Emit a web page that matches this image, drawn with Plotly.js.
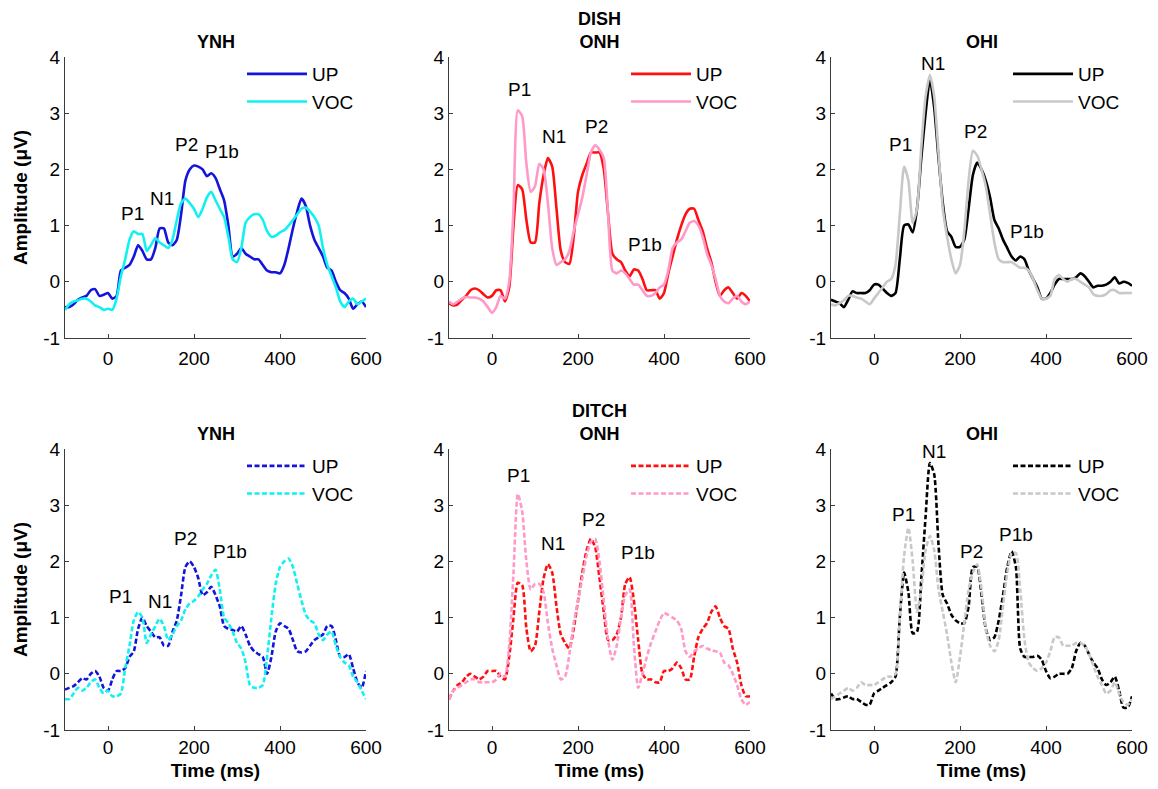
<!DOCTYPE html>
<html>
<head>
<meta charset="utf-8">
<script src="https://cdn.plot.ly/plotly-3.0.1.min.js"></script>
<style>html,body{margin:0;padding:0;background:#fff}#chart{width:1158px;height:789px}</style>
</head>
<body>
<div id="chart"></div>
<script>
// ---- time axis (ms) ----
var time = [];
for (var k = -100; k <= 600; k += 10) time.push(k);

// ---- DISH (top row, solid) ----
var dishYnhUp = [-0.45,-0.45,-0.4,-0.32,-0.28,-0.25,-0.15,-0.13,-0.25,-0.23,
  -0.2,-0.3,-0.25,0.2,0.25,0.3,0.45,0.65,0.55,0.4,
  0.4,0.6,0.95,0.95,0.7,0.65,0.75,1.2,1.8,2.0,
  2.07,2.05,2.0,1.88,1.93,1.85,1.65,1.45,1.0,0.45,
  0.5,0.6,0.5,0.45,0.4,0.4,0.3,0.2,0.17,0.17,
  0.15,0.3,0.6,0.95,1.25,1.48,1.35,1.0,0.75,0.6,
  0.45,0.25,0.2,0.0,-0.15,-0.2,-0.3,-0.48,-0.4,-0.35,
  -0.45];
var dishYnhVoc = [-0.5,-0.4,-0.35,-0.33,-0.3,-0.3,-0.35,-0.42,-0.45,-0.5,
  -0.48,-0.5,-0.3,0.1,0.4,0.75,0.9,0.85,0.85,0.55,
  0.65,0.78,0.7,0.65,0.6,0.75,1.1,1.4,1.48,1.4,
  1.3,1.15,1.3,1.5,1.6,1.45,1.3,1.15,0.8,0.4,
  0.35,0.6,1.05,1.15,1.2,1.2,1.1,0.9,0.8,0.82,
  0.88,0.92,1.0,1.1,1.2,1.3,1.32,1.25,1.15,1.0,
  0.6,0.3,0.1,-0.1,-0.35,-0.45,-0.35,-0.3,-0.4,-0.35,
  -0.3];
var dishOnhUp = [-0.38,-0.42,-0.4,-0.32,-0.25,-0.15,-0.12,-0.15,-0.22,-0.28,
  -0.25,-0.15,-0.15,-0.35,-0.1,1.0,1.72,1.65,1.1,0.7,
  0.7,1.4,1.9,2.2,2.05,1.3,0.55,0.35,0.32,0.8,
  1.6,1.9,2.1,2.3,2.3,2.3,2.0,1.2,0.5,0.4,
  0.35,0.2,0.1,0.22,0.2,0.05,-0.15,-0.15,-0.15,-0.3,
  -0.2,0.15,0.45,0.75,1.0,1.2,1.3,1.3,1.1,0.9,
  0.6,0.35,0.0,-0.25,-0.15,-0.1,-0.2,-0.3,-0.2,-0.25,
  -0.35];
var dishOnhVoc = [-0.35,-0.4,-0.35,-0.3,-0.27,-0.28,-0.28,-0.3,-0.35,-0.45,
  -0.55,-0.45,-0.25,-0.3,0.0,1.3,3.05,2.95,2.1,1.6,
  1.7,2.1,2.0,1.4,0.6,0.3,0.35,0.4,0.55,0.9,
  1.2,1.5,1.9,2.3,2.43,2.35,2.2,1.2,0.2,0.15,
  0.2,0.15,0.05,-0.05,-0.05,-0.15,-0.25,-0.25,-0.2,-0.1,
  -0.05,0.2,0.6,0.7,0.75,0.9,1.05,1.08,1.0,0.8,
  0.5,0.3,0.05,-0.25,-0.35,-0.38,-0.3,-0.25,-0.35,-0.4,
  -0.35];
var dishOhiUp = [-0.32,-0.35,-0.38,-0.45,-0.32,-0.17,-0.2,-0.2,-0.2,-0.15,
  -0.05,-0.05,-0.12,-0.2,-0.25,-0.2,0.4,1.0,1.02,0.88,
  1.3,2.2,3.0,3.6,3.1,2.2,1.4,0.9,0.8,0.62,
  0.62,0.75,1.3,1.9,2.12,2.0,1.8,1.5,1.1,0.95,
  0.75,0.6,0.45,0.38,0.45,0.4,0.2,0.05,-0.1,-0.3,
  -0.3,-0.2,-0.05,0.05,0.05,0.05,0.05,0.08,0.15,0.1,
  0.0,-0.1,-0.07,-0.07,-0.05,0.0,0.08,-0.03,0.0,-0.02,
  -0.07];
var dishOhiVoc = [-0.4,-0.42,-0.38,-0.33,-0.25,-0.25,-0.28,-0.3,-0.35,-0.4,
  -0.3,-0.2,-0.1,0.0,0.05,0.3,1.2,2.05,1.8,1.05,
  1.3,2.4,3.3,3.68,3.3,2.3,1.3,0.8,0.4,0.15,
  0.3,0.9,1.8,2.33,2.25,2.0,1.7,1.2,0.7,0.4,
  0.35,0.35,0.35,0.3,0.25,0.25,0.2,0.05,-0.15,-0.3,
  -0.3,-0.25,0.05,0.12,0.05,0.0,0.05,0.05,0.0,-0.05,
  -0.1,-0.22,-0.25,-0.25,-0.22,-0.15,-0.15,-0.2,-0.2,-0.2,
  -0.2];

// ---- DITCH (bottom row, dashed) ----
var ditchYnhUp = [-0.28,-0.25,-0.22,-0.15,-0.08,-0.1,0.0,0.05,-0.05,-0.25,
  -0.3,-0.1,0.05,0.05,0.1,0.3,0.4,0.8,1.0,0.85,
  0.75,0.65,0.65,0.5,0.5,0.75,0.95,1.4,1.9,2.0,
  1.9,1.7,1.4,1.45,1.55,1.4,1.2,0.85,0.8,0.78,
  0.75,0.85,0.7,0.5,0.4,0.35,0.3,0.0,0.3,0.75,
  0.9,0.85,0.8,0.6,0.4,0.38,0.4,0.5,0.6,0.65,
  0.7,0.85,0.85,0.6,0.3,0.3,0.35,0.1,-0.15,-0.25,
  0.05];
var ditchYnhVoc = [-0.45,-0.45,-0.35,-0.25,-0.3,-0.25,-0.15,-0.1,-0.25,-0.35,
  -0.3,-0.4,-0.4,-0.35,0.1,0.5,0.95,1.1,1.0,0.55,
  0.7,0.85,0.98,0.85,0.6,0.7,0.85,0.95,1.15,1.25,
  1.3,1.38,1.5,1.6,1.75,1.85,1.5,1.0,0.9,0.75,
  0.55,0.45,0.2,-0.2,-0.25,-0.25,-0.2,0.3,1.0,1.6,
  1.9,2.0,2.05,1.9,1.6,1.3,1.05,0.95,0.9,0.7,
  0.6,0.7,0.75,0.5,0.3,0.2,0.15,-0.05,-0.15,-0.3,
  -0.45];
var ditchOnhUp = [-0.45,-0.3,-0.2,-0.15,-0.05,0.0,-0.05,-0.1,-0.05,0.05,
  0.05,0.05,-0.05,-0.1,0.3,1.0,1.62,1.58,0.8,0.4,
  0.5,1.1,1.7,1.95,1.8,1.2,0.7,0.55,0.45,0.8,
  1.3,1.8,2.2,2.4,2.25,1.7,1.1,0.6,0.6,0.7,
  1.0,1.6,1.72,1.3,0.6,0.0,-0.1,-0.1,-0.15,-0.15,
  0.05,0.05,0.1,0.2,0.1,-0.1,-0.1,0.3,0.65,0.8,
  0.9,1.1,1.2,1.0,0.85,0.8,0.45,0.2,-0.2,-0.4,
  -0.4];
var ditchOnhVoc = [-0.45,-0.3,-0.25,-0.2,-0.15,-0.1,-0.1,-0.15,-0.15,-0.15,
  -0.15,-0.1,0.0,-0.05,0.5,1.8,3.2,2.9,2.0,1.5,
  1.6,1.6,1.45,0.9,0.45,0.15,-0.1,-0.05,0.35,0.9,
  1.3,1.7,2.1,2.35,2.4,2.0,1.3,0.6,0.25,0.5,
  1.0,1.4,1.5,0.5,-0.25,0.0,0.3,0.55,0.75,0.95,
  1.08,1.05,1.0,0.95,0.8,0.4,0.3,0.4,0.45,0.5,
  0.45,0.42,0.4,0.38,0.2,0.15,0.0,-0.2,-0.45,-0.55,
  -0.5];
var ditchOhiUp = [-0.35,-0.45,-0.45,-0.42,-0.4,-0.45,-0.45,-0.5,-0.55,-0.55,
  -0.35,-0.3,-0.25,-0.2,-0.15,-0.05,1.0,1.8,1.45,0.72,
  0.75,1.7,2.8,3.75,3.55,2.3,1.4,1.25,1.05,0.95,
  0.9,0.9,1.2,1.9,1.9,1.4,0.8,0.6,0.65,0.95,
  1.4,1.9,2.18,1.9,0.45,0.3,0.3,0.3,0.32,0.25,
  0.05,-0.08,-0.05,0.0,0.0,0.0,0.1,0.4,0.55,0.5,
  0.35,0.2,0.1,-0.1,-0.2,-0.15,-0.05,-0.3,-0.6,-0.6,
  -0.4];
var ditchOhiVoc = [-0.45,-0.4,-0.35,-0.3,-0.25,-0.3,-0.25,-0.15,-0.2,-0.2,
  -0.2,-0.15,-0.1,-0.05,-0.05,0.0,1.0,2.1,2.6,2.0,
  1.1,1.5,2.2,2.45,2.2,1.5,1.1,0.7,0.2,-0.15,
  0.3,0.9,1.5,1.8,1.95,1.5,0.8,0.5,0.4,0.6,
  1.2,1.8,2.15,2.15,1.5,0.6,0.2,0.1,0.05,0.1,
  0.2,0.4,0.65,0.65,0.5,0.5,0.5,0.55,0.55,0.5,
  0.35,0.15,-0.05,-0.2,-0.35,-0.3,-0.15,-0.35,-0.5,-0.55,
  -0.45];

// ---- tick labels ----
var xTickVals = [0, 200, 400, 600];
var xTickText = ['0', '200', '400', '600'];
var yTickVals = [-1, 0, 1, 2, 3, 4];
var yTickText = ['-1', '0', '1', '2', '3', '4'];

// ---- panel titles ----
var panelTitles = ['YNH', 'DISH<br>ONH', 'OHI', 'YNH', 'DITCH<br>ONH', 'OHI'];
var seriesNames = ['UP', 'VOC'];

// ---- peak labels (text, time, amplitude) ----
var peakText = ['P1', 'N1', 'P2', 'P1b'];
var peakX = [
  [57, 125, 183, 264],
  [65, 144, 243, 356],
  [61, 138, 235, 355],
  [28, 121, 181, 284],
  [61, 141, 236, 340],
  [69, 140, 227, 330]
];
var peakY = [
  [1.22, 1.49, 2.45, 2.32],
  [3.42, 2.59, 2.77, 0.67],
  [2.45, 3.88, 2.68, 0.9],
  [1.38, 1.29, 2.4, 2.18],
  [3.52, 2.31, 2.75, 2.16],
  [2.83, 3.96, 2.18, 2.47]
];

// ---- styles ----
var upColors = ['#1414dc', '#ff1010', '#000000', '#1414dc', '#ff1010', '#000000'];
var vocColors = ['#12f0f0', '#ff99c8', '#c8c8c8', '#12f0f0', '#ff99c8', '#c8c8c8'];
var upData = [dishYnhUp, dishOnhUp, dishOhiUp, ditchYnhUp, ditchOnhUp, ditchOhiUp];
var vocData = [dishYnhVoc, dishOnhVoc, dishOhiVoc, ditchYnhVoc, ditchOnhVoc, ditchOhiVoc];

var W = 1158, H = 789;
var colPx = [[65, 366], [449, 750], [831, 1132]];
var rowPx = [[57, 338], [449, 730]];
var FONT = 'Liberation Sans, Arial, sans-serif';

var traces = [];
var layout = {
  width: W, height: H,
  margin: {l: 0, r: 0, t: 0, b: 0},
  paper_bgcolor: '#ffffff', plot_bgcolor: '#ffffff',
  font: {family: FONT, size: 19, color: '#000'},
  annotations: [],
  hovermode: false
};

for (var p = 0; p < 6; p++) {
  var row = Math.floor(p / 3), col = p % 3;
  var ax = p === 0 ? '' : String(p + 1);
  var legName = p === 0 ? 'legend' : 'legend' + (p + 1);
  var dash = row === 0 ? 'solid' : '5px,2.5px';
  var xd = [colPx[col][0] / W, colPx[col][1] / W];
  var yd = [1 - rowPx[row][1] / H, 1 - rowPx[row][0] / H];

  traces.push({
    x: time, y: upData[p], type: 'scatter', mode: 'lines', name: seriesNames[0],
    xaxis: 'x' + ax, yaxis: 'y' + ax, legend: legName, legendgroup: 'u' + p,
    line: {color: upColors[p], width: 2.6, dash: dash, shape: 'spline', smoothing: 0.6}
  });
  traces.push({
    x: time, y: vocData[p], type: 'scatter', mode: 'lines', name: seriesNames[1],
    xaxis: 'x' + ax, yaxis: 'y' + ax, legend: legName, legendgroup: 'v' + p,
    line: {color: vocColors[p], width: 2.6, dash: dash, shape: 'spline', smoothing: 0.6}
  });

  layout['xaxis' + ax] = {
    domain: xd, anchor: 'y' + ax, range: [-100, 600],
    tickvals: xTickVals, ticktext: xTickText,
    showgrid: false, zeroline: false, showline: true, linecolor: '#3c3c3c', linewidth: 1,
    ticks: 'inside', ticklen: 4, tickcolor: '#3c3c3c', ticklabelstandoff: row === 0 ? 3 : 0,
    tickfont: {family: FONT, size: 19, color: '#000'},
    title: row === 1 ? {text: '<b>Time (ms)</b>', font: {family: FONT, size: 19}, standoff: 6} : {text: ''}
  };
  layout['yaxis' + ax] = {
    domain: yd, anchor: 'x' + ax, range: [-1, 4],
    tickvals: yTickVals, ticktext: yTickText,
    showgrid: false, zeroline: false, showline: true, linecolor: '#3c3c3c', linewidth: 1,
    ticks: 'inside', ticklen: 4, tickcolor: '#3c3c3c',
    tickfont: {family: FONT, size: 19, color: '#000'},
    title: col === 0 ? {text: '<b>Amplitude (μV)</b>', font: {family: FONT, size: 19}, standoff: 10} : {text: ''}
  };

  layout[legName] = {
    x: (colPx[col][1] - 124) / W, y: 1 - (rowPx[row][0] - 2) / H,
    xanchor: 'left', yanchor: 'top',
    bgcolor: 'rgba(0,0,0,0)', borderwidth: 0,
    font: {family: FONT, size: 19, color: '#000'},
    itemwidth: 60, traceorder: 'grouped', tracegroupgap: 0
  };

  // title
  layout.annotations.push({
    xref: 'paper', yref: 'paper',
    x: (xd[0] + xd[1]) / 2, y: 1 - (rowPx[row][0] - 3) / H,
    xanchor: 'center', yanchor: 'bottom', showarrow: false,
    text: '<b>' + panelTitles[p] + '</b>',
    font: {family: FONT, size: 18, color: '#000'}
  });
  // peak labels
  for (var q = 0; q < peakText.length; q++) {
    layout.annotations.push({
      xref: 'x' + ax, yref: 'y' + ax, x: peakX[p][q], y: peakY[p][q],
      text: peakText[q], showarrow: false,
      font: {family: FONT, size: 19, color: '#000'}
    });
  }
}

Plotly.newPlot('chart', traces, layout, {displayModeBar: false, staticPlot: true});
</script>
</body>
</html>
